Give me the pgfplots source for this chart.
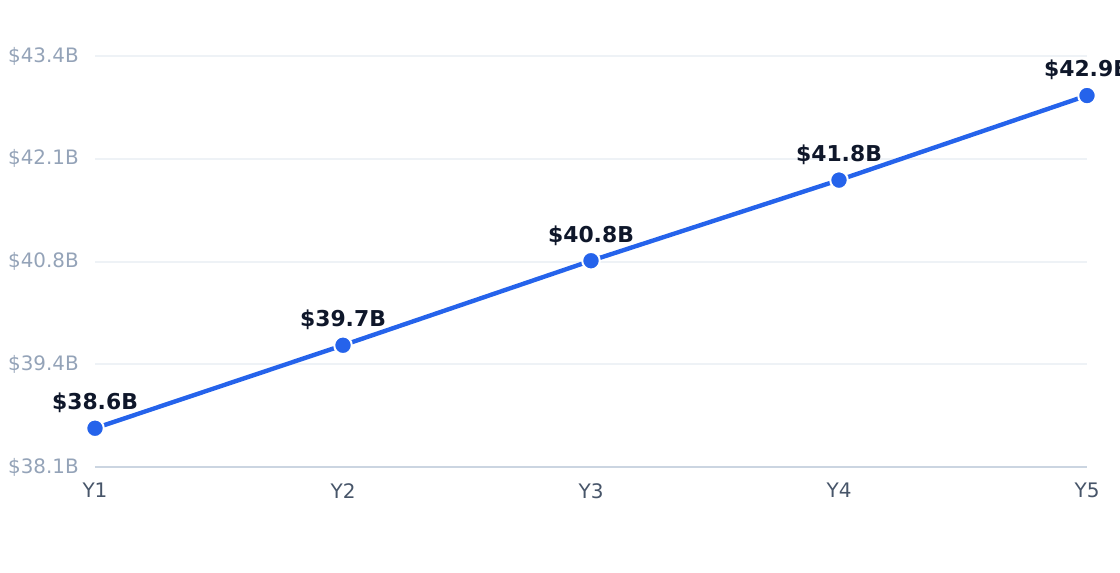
\documentclass[border=0pt]{standalone}
\usepackage{pgfplots}
\pgfplotsset{compat=1.18}
\usepackage{pgfplotstable}
\usepackage{fontspec}
\setmainfont{DejaVu Sans}
\definecolor{lineblue}{HTML}{2563EB}
\definecolor{ytick}{HTML}{94A3B8}
\definecolor{xtick}{HTML}{475569}
\definecolor{lbl}{HTML}{0F172A}
\definecolor{gridc}{HTML}{EEF2F6}
\definecolor{axisc}{HTML}{CBD5E1}
\pgfplotstableread{
x y lab
0 38.60 {\$38.6B}
1 39.67 {\$39.7B}
2 40.76 {\$40.8B}
3 41.80 {\$41.8B}
4 42.89 {\$42.9B}
}\datatable
\begin{document}
\begin{tikzpicture}
\useasboundingbox (0,0) rectangle (840pt,429pt);
\begin{axis}[
  at={(71.25pt,78.75pt)}, anchor=south west,
  scale only axis, width=744pt, height=308.25pt,
  xmin=0, xmax=4, ymin=38.1, ymax=43.4,
  clip=false,
  axis lines*=left,
  y axis line style={draw=none},
  x axis line style={draw=axisc, line width=2.2pt},
  major tick length=0pt,
  xtick={0,1,2,3,4},
  xticklabels={Y1,Y2,Y3,Y4,Y5},
  ytick={38.1,39.425,40.75,42.075,43.4},
  yticklabels={\$38.1B,\$39.4B,\$40.8B,\$42.1B,\$43.4B},
  ymajorgrids,
  grid style={draw=gridc, line width=1.5pt},
  xticklabel style={anchor=north, inner sep=0pt, yshift=-12pt, text=xtick, font=\fontsize{15}{18}\selectfont},
  yticklabel style={anchor=east, inner sep=0pt, xshift=-12pt, text=ytick, font=\fontsize{14.9}{18}\selectfont},
  nodes near coords,
  point meta=explicit symbolic,
  every node near coord/.append style={anchor=base, inner sep=0pt, yshift=14pt, text=lbl, font=\fontsize{16.4}{19}\selectfont\bfseries},
]
\addplot[lineblue, line width=3.3pt, mark=*, mark size=6.6pt,
  mark options={fill=lineblue, draw=white, line width=1.5pt}]
  table[x=x, y=y, meta=lab] {\datatable};
\end{axis}
\end{tikzpicture}
\end{document}
